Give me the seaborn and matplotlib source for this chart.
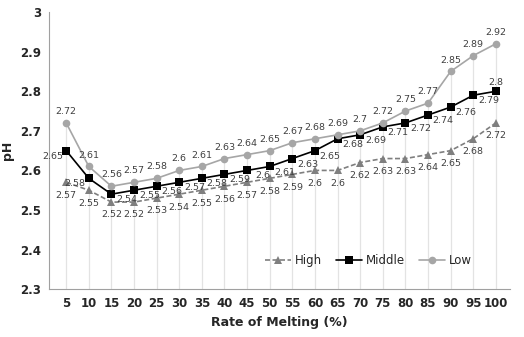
#Recreating the pH vs rate of melting line chart with seaborn.

#Importing libraries.
import pandas as pd
import matplotlib
matplotlib.use('Agg')
import matplotlib.pyplot as plt
import seaborn as sns

#Chart data.
melting_rate = [5, 10, 15, 20, 25, 30, 35, 40, 45, 50, 55, 60, 65, 70, 75, 80, 85, 90, 95, 100]
ph_high = [2.57, 2.55, 2.52, 2.52, 2.53, 2.54, 2.55, 2.56, 2.57, 2.58,
           2.59, 2.6, 2.6, 2.62, 2.63, 2.63, 2.64, 2.65, 2.68, 2.72]
ph_middle = [2.65, 2.58, 2.54, 2.55, 2.56, 2.57, 2.58, 2.59, 2.6, 2.61,
             2.63, 2.65, 2.68, 2.69, 2.71, 2.72, 2.74, 2.76, 2.79, 2.8]
ph_low = [2.72, 2.61, 2.56, 2.57, 2.58, 2.6, 2.61, 2.63, 2.64, 2.65,
          2.67, 2.68, 2.69, 2.7, 2.72, 2.75, 2.77, 2.85, 2.89, 2.92]
series_names = ['High', 'Middle', 'Low']
y_ticks = [2.3, 2.4, 2.5, 2.6, 2.7, 2.8, 2.9, 3]

#Building a long-form table for seaborn.
ph_data = pd.concat([
    pd.DataFrame({'Rate': melting_rate, 'pH': vals, 'Level': name})
    for name, vals in zip(series_names, [ph_high, ph_middle, ph_low])
])

sns.set_style('white')
plt.rcParams['font.family'] = ['DejaVu Sans']

fig = plt.figure(figsize=(5.24, 3.37), dpi=100)
ax = fig.add_axes([0.094, 0.142, 0.879, 0.822])

#Drop lines from the top point to the axis.
ax.vlines(melting_rate, 2.3, [max(v) for v in zip(ph_high, ph_middle, ph_low)],
          color='#e3e3e3', linewidth=0.9, zorder=0)

#Plotting the three series.
colors = {'High': '#7f7f7f', 'Middle': '#000000', 'Low': '#a6a6a6'}
sns.lineplot(data=ph_data, x='Rate', y='pH', hue='Level', style='Level',
             palette=colors, markers={'High': '^', 'Middle': 's', 'Low': 'o'},
             dashes={'High': (3, 1.5), 'Middle': '', 'Low': ''},
             markersize=5.5, markeredgewidth=0, linewidth=1.2, ax=ax)

#Data labels.
label_kw = dict(fontsize=6.8, color='#404040', ha='center')
for i, x in enumerate(melting_rate):
    ax.annotate(f'{ph_low[i]:g}', (x, ph_low[i]), xytext=(0, 5),
                textcoords='offset points', va='bottom', **label_kw)
    ax.annotate(f'{ph_high[i]:g}', (x, ph_high[i]), xytext=(0, -6),
                textcoords='offset points', va='top', **label_kw)
    if i < 2:
        off = (-10, -4)
    elif i == len(melting_rate) - 1:
        off = (0, 6)
    else:
        off = (11, -4)
    ax.annotate(f'{ph_middle[i]:g}', (x, ph_middle[i]), xytext=off,
                textcoords='offset points', va='center', **label_kw)

ax.set_xlim(1.25, 103.1)
ax.set_ylim(2.3, 3.0)
ax.set_xticks(melting_rate)
ax.set_yticks(y_ticks)
ax.set_yticklabels([f'{t:g}' for t in y_ticks])
ax.tick_params(axis='both', labelsize=8.5, length=0, pad=6)
for lbl in ax.get_xticklabels() + ax.get_yticklabels():
    lbl.set_fontweight('bold')
ax.set_xlabel('Rate of Melting (%)', fontsize=9, fontweight='bold')
ax.set_ylabel('pH', fontsize=9, fontweight='bold')

sns.despine(ax=ax)
ax.spines['left'].set_color('#a0a0a0')
ax.spines['bottom'].set_color('#a0a0a0')

ax.legend(title=None, frameon=False, ncol=3, fontsize=8.5, loc='lower right',
          bbox_to_anchor=(0.94, 0.04), handlelength=2.2, columnspacing=1.2,
          handletextpad=0.3)

plt.savefig('out.png', dpi=100)
